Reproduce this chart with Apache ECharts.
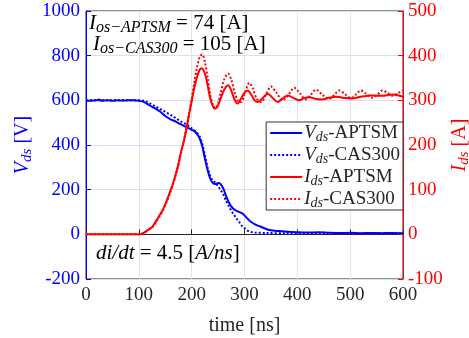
<!DOCTYPE html>
<html>
<head>
<meta charset="utf-8">
<script src="https://cdn.jsdelivr.net/npm/echarts@6/dist/echarts.min.js"></script>
<style>html,body{margin:0;padding:0;background:#fff}#c{width:469px;height:338px}</style>
</head>
<body>
<div id="c"></div>
<script>
var seriesNames = ['Vds-APTSM', 'Vds-CAS300', 'Ids-APTSM', 'Ids-CAS300'];
var xTicks = [0, 100, 200, 300, 400, 500, 600];

var vdsAptsm = [[0,598],[10,598],[20,600],[25,604],[30,598],[40,600],[50,598],[60,600],[70,599],[80,600],[90,600],[100,598],[110,592],[120,578],[130,565],[140,550],[150,530],[160,515],[170,505],[180,492],[190,480],[200,468],[205,462],[210,450],[215,430],[220,395],[225,340],[230,290],[235,250],[240,230],[245,225],[250,230],[255,225],[260,205],[265,172],[270,145],[275,125],[280,112],[285,105],[290,100],[295,95],[300,85],[305,72],[310,60],[320,45],[330,35],[340,25],[350,18],[360,15],[370,14],[380,12],[390,10],[400,9],[420,8],[440,9],[460,7],[480,6],[500,7],[520,5],[540,6],[560,5],[580,6],[600,5]];

var vdsCas300 = [[0,600],[20,600],[40,600],[60,600],[80,600],[100,600],[110,598],[120,588],[130,575],[140,562],[150,548],[160,535],[170,520],[180,505],[190,492],[200,475],[210,455],[215,438],[220,405],[225,355],[230,300],[235,262],[240,240],[245,232],[250,215],[255,198],[260,178],[265,150],[270,128],[275,105],[280,88],[285,70],[290,55],[295,38],[300,28],[305,18],[310,12],[320,8],[340,6],[380,5],[450,5],[520,4],[600,5]];

var idsAptsm = [[0,0],[50,0],[100,0],[105,1],[110,4],[115,8],[120,12],[125,16],[130,25],[135,34],[140,44],[145,54],[150,67],[155,82],[160,98],[165,115],[170,135],[175,158],[180,185],[185,208],[190,235],[195,268],[200,298],[205,328],[210,352],[215,368],[219,372],[225,360],[230,335],[235,305],[240,287],[244,281],[249,286],[255,305],[262,325],[269,334],[275,322],[281,302],[287,293],[293,303],[300,317],[306,322],[313,312],[319,300],[325,296],[335,306],[344,315],[353,306],[363,296],[372,304],[382,311],[393,305],[404,300],[413,305],[423,307],[435,303],[447,302],[460,306],[475,308],[490,305],[505,304],[520,308],[540,311],[560,310],[580,313],[600,308]];

var idsCas300 = [[0,0],[50,0],[100,0],[105,1],[110,3],[115,7],[120,11],[125,15],[130,23],[135,32],[140,42],[145,52],[150,65],[155,80],[160,96],[165,113],[170,133],[175,156],[180,183],[185,208],[190,238],[195,270],[200,303],[205,340],[210,373],[215,396],[220,403],[225,386],[230,352],[235,314],[240,290],[245,282],[250,292],[255,318],[262,348],[269,360],[275,346],[282,315],[288,298],[294,296],[300,314],[309,339],[316,326],[323,304],[332,296],[340,311],[350,331],[360,318],[372,300],[382,310],[394,328],[405,316],[415,302],[425,312],[435,324],[448,312],[460,303],[470,312],[479,322],[490,314],[502,305],[510,312],[520,322],[530,315],[542,306],[552,313],[561,322],[570,317],[580,310],[590,316],[600,322]];

var FONT = 'Liberation Serif';
var TXT = '#262626';
var BLUE = '#0000ff';
var RED = '#ff0000';

var legendLabels = {
  'Vds-APTSM': '{i|V}{s|ds}{n|-APTSM}',
  'Vds-CAS300': '{i|V}{s|ds}{n|-CAS300}',
  'Ids-APTSM': '{i|I}{s|ds}{n|-APTSM}',
  'Ids-CAS300': '{i|I}{s|ds}{n|-CAS300}'
};

function richSet(color, size, sub, lh) {
  lh = lh || 22;
  var off = Math.round(size * 0.42);
  return {
    i: {fontFamily: FONT, fontStyle: 'italic', fontSize: size, color: color, lineHeight: lh},
    s: {fontFamily: FONT, fontStyle: 'italic', fontSize: sub, color: color, lineHeight: lh - off, padding: [off, 0, 0, 0]},
    n: {fontFamily: FONT, fontSize: size, color: color, lineHeight: lh}
  };
}

var chart = echarts.init(document.getElementById('c'));
chart.setOption({
  animation: false,
  backgroundColor: '#fff',
  grid: {left: 86, right: 66, top: 11, bottom: 59, show: true, borderColor: TXT, borderWidth: 1, containLabel: false, outerBoundsMode: 'none'},
  xAxis: {
    type: 'value', min: xTicks[0], max: xTicks[xTicks.length - 1], interval: 100,
    name: 'time [ns]', nameLocation: 'middle', nameGap: 37,
    nameTextStyle: {fontFamily: FONT, fontSize: 20, color: TXT},
    axisLine: {lineStyle: {color: TXT, width: 1}},
    axisTick: {inside: true, length: 5, lineStyle: {color: TXT}},
    axisLabel: {fontFamily: FONT, fontSize: 19, color: TXT, margin: 7},
    splitLine: {show: true, lineStyle: {color: '#e4e4e4', width: 1}}
  },
  yAxis: [{
    type: 'value', min: -200, max: 1000, interval: 200, position: 'left',
    name: '{i|V}{s|ds}{n| [V]}', nameLocation: 'middle', nameRotate: 90, nameGap: 52, nameMoveOverlap: false,
    nameTextStyle: {rich: richSet(BLUE, 20, 15)},
    axisLine: {show: true, lineStyle: {color: BLUE, width: 1}},
    axisTick: {show: true, inside: true, length: 5, lineStyle: {color: BLUE}},
    axisLabel: {fontFamily: FONT, fontSize: 19, color: BLUE, margin: 6, formatter: function (v) { return String(v); }},
    splitLine: {show: true, lineStyle: {color: '#dcdcf8', width: 1}}
  }, {
    type: 'value', min: -100, max: 500, interval: 100, position: 'right',
    name: '{i|I}{s|ds}{n| [A]}', nameLocation: 'middle', nameRotate: 90, nameGap: 46, nameMoveOverlap: false,
    nameTextStyle: {rich: richSet(RED, 20, 15)},
    axisLine: {show: true, lineStyle: {color: RED, width: 1}},
    axisTick: {show: true, inside: true, length: 5, lineStyle: {color: RED}},
    axisLabel: {fontFamily: FONT, fontSize: 19, color: RED, margin: 5, formatter: function (v) { return String(v); }},
    splitLine: {show: false}
  }],
  legend: {
    orient: 'vertical', right: 66, top: 122,
    data: seriesNames,
    itemWidth: 32, itemHeight: 12, itemGap: 0,
    padding: [0, 3, 0, 3],
    backgroundColor: '#fff', borderColor: '#333', borderWidth: 1,
    itemStyle: {color: 'rgba(0,0,0,0)', borderWidth: 0, opacity: 0},
    formatter: function (n) { return legendLabels[n]; },
    textStyle: {rich: richSet(TXT, 19, 14, 19.5), padding: [0, 0, 0, -3]}
  },
  graphic: [{
    type: 'text', left: 89, top: 11, z: 100,
    style: {
      text: '{i|I}{s|os−APTSM}{n| = 74 [A]}',
      rich: richSet(TXT, 21, 16)
    }
  }, {
    type: 'text', left: 93, top: 32, z: 100,
    style: {
      text: '{i|I}{s|os−CAS300}{n| = 105 [A]}',
      rich: richSet(TXT, 21, 16)
    }
  }, {
    type: 'text', left: 96, top: 243, z: 100,
    style: {
      text: '{i|di/dt}{n| = 4.5 [}{i|A/ns}{n|]}',
      rich: richSet(TXT, 21, 16)
    }
  }],
  series: [{
    name: seriesNames[0], type: 'line', yAxisIndex: 0, data: vdsAptsm, symbol: 'none', showSymbol: false, smooth: 0.3,
    lineStyle: {color: BLUE, width: 2, type: 'solid'}, itemStyle: {color: BLUE}, z: 2
  }, {
    name: seriesNames[1], type: 'line', yAxisIndex: 0, data: vdsCas300, symbol: 'none', showSymbol: false, smooth: 0.3,
    lineStyle: {color: BLUE, width: 2, type: [2, 2]}, itemStyle: {color: BLUE}, z: 2
  }, {
    name: seriesNames[2], type: 'line', yAxisIndex: 1, data: idsAptsm, symbol: 'none', showSymbol: false, smooth: 0.3,
    lineStyle: {color: RED, width: 2, type: 'solid'}, itemStyle: {color: RED}, z: 3
  }, {
    name: seriesNames[3], type: 'line', yAxisIndex: 1, data: idsCas300, symbol: 'none', showSymbol: false, smooth: 0.3,
    lineStyle: {color: RED, width: 2, type: [2, 2]}, itemStyle: {color: RED}, z: 3
  }]
});
</script>
</body>
</html>
